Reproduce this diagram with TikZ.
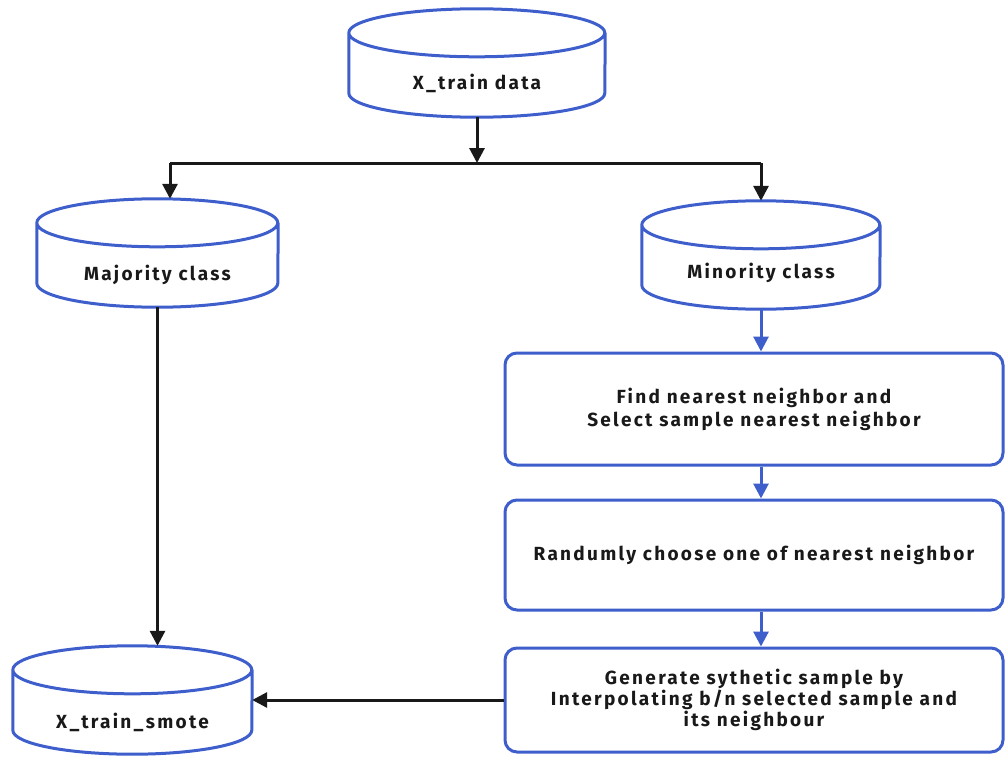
\documentclass[tikz,border=0pt]{standalone}
\usepackage{fontspec}
\setmainfont{Fira Sans}[LetterSpace=12]
\usetikzlibrary{arrows.meta,calc}
\definecolor{flowblue}{RGB}{62,94,204}
\definecolor{ink}{RGB}{25,25,25}
\tikzset{
  cylnode/.style={minimum height=108pt, inner sep=0pt},
  boxnode/.style={draw=flowblue, line width=3pt, rounded corners=12pt,
    align=center, minimum width=498pt, inner sep=0pt, text=ink,
    font=\bfseries\fontsize{19}{23}\selectfont},
  lbl/.style={text=ink, font=\bfseries\fontsize{19}{22}\selectfont},
  cylline/.style={draw=flowblue, line width=3pt},
  blackline/.style={draw=ink, line width=3pt},
  blackarrow/.style={blackline, -{Triangle[length=15pt,width=15pt]}},
  bluearrow/.style={draw=flowblue, line width=3pt, -{Triangle[length=15pt,width=15pt]}}
}
% outline of a database cylinder around a named node; #2 = half width
\newcommand\cylpath[2]{%
  \draw[cylline] ($(#1.north west)+(0,24)$)
    arc[start angle=180,end angle=540,x radius=#2pt,y radius=24pt]
    -- ($(#1.south west)+(0,-24)$)
    arc[start angle=180,end angle=360,x radius=#2pt,y radius=24pt]
    -- ($(#1.north east)+(0,24)$);}
\begin{document}
\begin{tikzpicture}[x=1pt,y=-1pt]
\useasboundingbox (0,0) rectangle (1006,757);

% data stores
\node[cylnode, minimum width=256pt,
  label={[lbl, yshift=-20pt]center:X\_train data}] (top) at (477,63) {};
\node[cylnode, minimum width=241pt,
  label={[lbl, yshift=-22pt]center:Majority class}] (maj) at (157.5,253) {};
\node[cylnode, minimum width=238pt,
  label={[lbl, yshift=-18pt]center:Minority class}] (min) at (761,255) {};
\node[cylnode, minimum width=239pt,
  label={[lbl, yshift=-22pt]center:X\_train\_smote}] (bot) at (132.5,700) {};
\cylpath{top}{128}
\cylpath{maj}{120.5}
\cylpath{min}{119}
\cylpath{bot}{119.5}

% SMOTE steps
\node[boxnode, minimum height=112pt] (b1) at (754,409)
  {Find nearest neighbor and\\Select sample nearest neighbor};
\node[boxnode, minimum height=110pt] (b2) at (754,555)
  {Randumly choose one of nearest neighbor};
\node[boxnode, minimum height=104pt,
  font=\bfseries\fontsize{19}{19}\selectfont] (b3) at (754,700)
  {Generate sythetic sample by\\Interpolating b/n selected sample and\\its neighbour};

% split of the training data
\coordinate (split) at (477,163);
\coordinate (jl) at (170,163);
\coordinate (jr) at (761,163);
\draw[blackarrow] (top.south) -- (split);
\draw[blackline] (jl) -- (jr);
\draw[blackarrow] (jl) -- (jl |- maj.north);
\draw[blackarrow] (jr) -- (jr |- min.north);

% minority branch
\draw[bluearrow] (min.south) -- (min.south |- b1.north);
\draw[bluearrow] (b1.south -| min.south) -- (b2.north -| min.south);
\draw[bluearrow] (b2.south -| min.south) -- (b3.north -| min.south);

% merge into the resampled set
\draw[blackarrow] (maj.south) -- (maj.south |- bot.north);
\draw[blackarrow] (b3.west) -- (b3.west -| bot.east);
\end{tikzpicture}
\end{document}
